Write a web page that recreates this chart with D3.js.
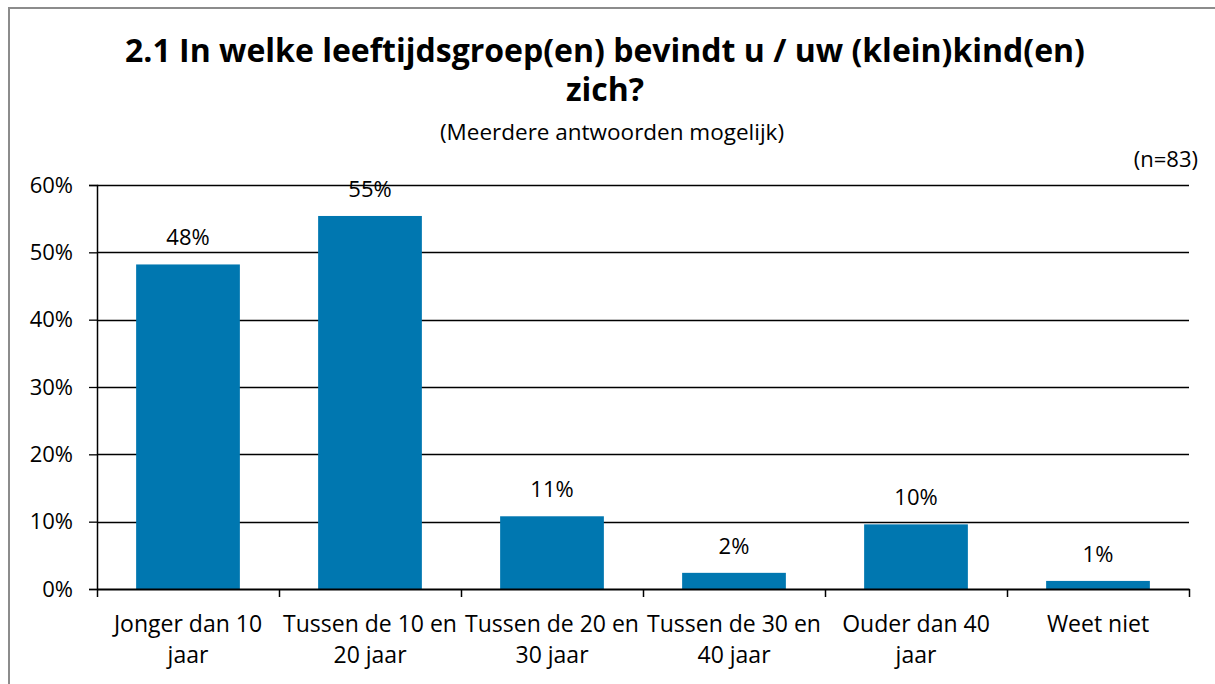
<!DOCTYPE html>
<html>
<head>
<meta charset="utf-8">
<script src="https://cdn.jsdelivr.net/npm/d3@7"></script>
<style>
  body { margin: 0; background: #fff; }
  text { font-family: "Open Sans", sans-serif; fill: #000; }
</style>
</head>
<body>
<div id="container"></div>
<script>
var categories = [
    ['Jonger dan 10', 'jaar'],
    ['Tussen de 10 en', '20 jaar'],
    ['Tussen de 20 en', '30 jaar'],
    ['Tussen de 30 en', '40 jaar'],
    ['Ouder dan 40', 'jaar'],
    ['Weet niet']
]
var values = [0.482, 0.554, 0.108, 0.024, 0.096, 0.012]
var valueLabels = ['48%', '55%', '11%', '2%', '10%', '1%']
var yTicks = [0, 0.1, 0.2, 0.3, 0.4, 0.5, 0.6]
var titleLines = ['2.1 In welke leeftijdsgroep(en) bevindt u / uw (klein)kind(en)', 'zich?']
var subtitle = '(Meerdere antwoorden mogelijk)'
var sampleNote = '(n=83)'

var width = 1215
var height = 684
var margin = { top: 185, right: 26, bottom: 95, left: 97 }
var plotW = width - margin.left - margin.right
var plotH = height - margin.top - margin.bottom
var labelSize = 23

var svg = d3.select('#container').append('svg')
    .attr('width', width)
    .attr('height', height)

// outer chart border
svg.append('rect')
    .attr('x', 9)
    .attr('y', 8)
    .attr('width', 1215)
    .attr('height', 700)
    .attr('fill', 'none')
    .attr('stroke', '#8c8c8c')
    .attr('stroke-width', 2)

svg.selectAll('text.title')
    .data(titleLines)
    .enter()
    .append('text')
    .attr('class', 'title')
    .attr('x', 605)
    .attr('y', function(d, i){ return 62 + i * 39 })
    .attr('text-anchor', 'middle')
    .attr('font-size', 32)
    .attr('font-weight', 'bold')
    .text(function(d){ return d })

svg.append('text')
    .attr('x', 612)
    .attr('y', 140)
    .attr('text-anchor', 'middle')
    .attr('font-size', labelSize - 0.5)
    .text(subtitle)

svg.append('text')
    .attr('x', 1198)
    .attr('y', 167)
    .attr('text-anchor', 'end')
    .attr('font-size', labelSize - 1)
    .text(sampleNote)

var g = svg.append('g')
    .attr('transform', 'translate(' + margin.left + ',' + margin.top + ')')

var x = d3.scaleBand()
    .domain(d3.range(categories.length))
    .range([0, plotW])
    .paddingInner(0.43)
    .paddingOuter(0.215)

var xTicks = d3.scaleLinear()
    .domain([0, categories.length])
    .range([0, plotW])

var y = d3.scaleLinear()
    .domain([0, 0.6])
    .range([plotH, 0])

// gridlines
g.selectAll('line.grid')
    .data(yTicks.slice(1))
    .enter()
    .append('line')
    .attr('class', 'grid')
    .attr('x1', 0)
    .attr('x2', plotW)
    .attr('y1', function(d){ return Math.round(y(d)) + 0.5 })
    .attr('y2', function(d){ return Math.round(y(d)) + 0.5 })
    .attr('stroke', '#000')
    .attr('stroke-width', 1.3)

var yAxis = g.append('g')
    .call(d3.axisLeft(y).tickValues(yTicks).tickFormat(d3.format('.0%')).tickSize(8).tickPadding(16))
yAxis.select('.domain').attr('stroke', '#000').attr('stroke-width', 1.5)
yAxis.selectAll('.tick line').attr('stroke', '#000').attr('stroke-width', 1.3)
yAxis.selectAll('.tick text')
    .attr('font-size', labelSize - 1)
    .attr('font-family', '"Open Sans", sans-serif')
    .attr('fill', '#000')

g.selectAll('rect.bar')
    .data(values)
    .enter()
    .append('rect')
    .attr('class', 'bar')
    .attr('x', function(d, i){ return x(i) })
    .attr('y', function(d){ return y(d) })
    .attr('width', x.bandwidth())
    .attr('height', function(d){ return plotH - y(d) })
    .attr('fill', '#0077b0')

g.selectAll('text.value')
    .data(values)
    .enter()
    .append('text')
    .attr('class', 'value')
    .attr('x', function(d, i){ return x(i) + x.bandwidth() / 2 })
    .attr('y', function(d){ return y(d) - 19 })
    .attr('text-anchor', 'middle')
    .attr('font-size', labelSize - 1)
    .text(function(d, i){ return valueLabels[i] })

var xAxis = g.append('g')
    .attr('transform', 'translate(0,' + plotH + ')')
    .call(d3.axisBottom(xTicks).ticks(categories.length).tickFormat('').tickSize(8).tickSizeOuter(0))
xAxis.select('.domain').attr('stroke', '#000').attr('stroke-width', 2)
xAxis.selectAll('.tick line').attr('stroke', '#000').attr('stroke-width', 1.5)

g.selectAll('text.cat')
    .data(categories)
    .enter()
    .append('text')
    .attr('class', 'cat')
    .attr('text-anchor', 'middle')
    .attr('font-size', labelSize)
    .attr('transform', function(d, i){
        return 'translate(' + (x(i) + x.bandwidth() / 2) + ',' + (plotH + 43) + ')'
    })
    .selectAll('tspan')
    .data(function(d){ return d })
    .enter()
    .append('tspan')
    .attr('x', 0)
    .attr('dy', function(d, i){ return i === 0 ? 0 : 31 })
    .text(function(d){ return d })
</script>
</body>
</html>
